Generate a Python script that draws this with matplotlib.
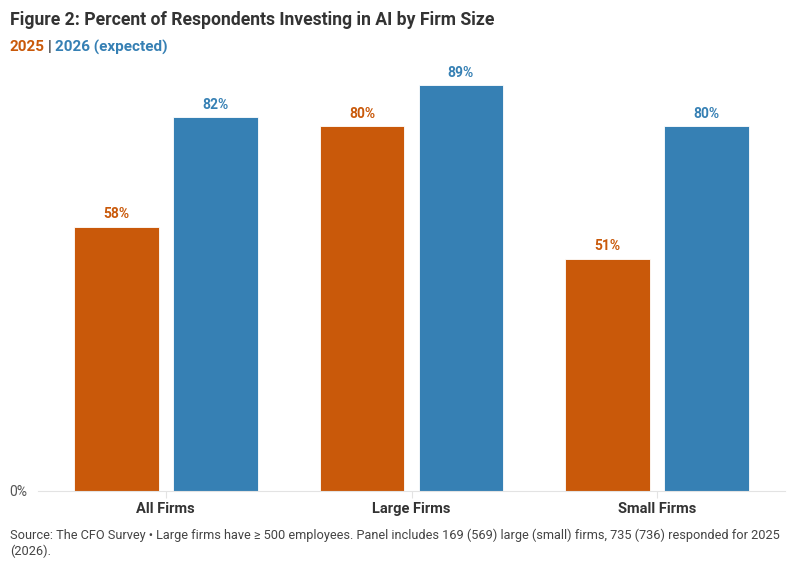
import matplotlib.pyplot as plt
import numpy as np

# data
categories = ['All Firms', 'Large Firms', 'Small Firms']
pct_2025 = [58, 80, 51]
pct_2026 = [82, 89, 80]

orange = '#C9590A'
blue = '#3680B4'
dark = '#333333'

plt.rcParams['font.family'] = ['Roboto', 'DejaVu Sans']

fig = plt.figure(figsize=(7.94, 5.67), dpi=100)
ax = fig.add_axes([38 / 794, 1 - 491 / 567, 747 / 794, 418 / 567])

x = np.arange(len(categories))
w = 0.345
off = 0.201
b1 = ax.bar(x - off, pct_2025, w, color=orange, edgecolor='white', linewidth=0.6)
b2 = ax.bar(x + off, pct_2026, w, color=blue, edgecolor='white', linewidth=0.6)

for bars, col in [(b1, orange), (b2, blue)]:
    for b in bars:
        ax.annotate(f'{b.get_height():.0f}%', (b.get_x() + b.get_width() / 2, b.get_height()),
                    xytext=(0, 4), textcoords='offset points', ha='center', va='bottom',
                    color=col, fontsize=10, fontweight='bold')

ax.set_xlim(-0.52, 2.52)
ax.set_ylim(0, 91.7)
ax.set_yticks([0])
ax.set_yticklabels(['0%'])
ax.set_xticks(x)
ax.set_xticklabels(categories, fontsize=10.5, fontweight='bold', color=dark)
for s in ['top', 'right', 'left']:
    ax.spines[s].set_visible(False)
ax.spines['bottom'].set_color('#e3e3e3')
ax.tick_params(axis='x', length=5, color='#e3e3e3', pad=3)
ax.tick_params(axis='y', length=0, labelsize=10, labelcolor='#555555', pad=8)

fig.text(10 / 794, 1 - 20 / 567, 'Figure 2: Percent of Respondents Investing in AI by Firm Size',
         fontsize=12.7, fontweight='bold', color=dark, va='center')
t1 = fig.text(10 / 794, 1 - 47 / 567, '2025', fontsize=11, fontweight='bold', color=orange, va='center')
fig.canvas.draw()
bb = t1.get_window_extent()
t2 = fig.text(bb.x1 / 794 + 0.004, 1 - 47 / 567, '|', fontsize=11, fontweight='bold', color=dark, va='center')
bb = t2.get_window_extent()
fig.text(bb.x1 / 794 + 0.004, 1 - 47 / 567, '2026 (expected)', fontsize=11, fontweight='bold', color=blue, va='center')

fig.text(10 / 794, 1 - 535 / 567,
         'Source: The CFO Survey \u2022 Large firms have \u2265 500 employees. Panel includes 169 (569) large (small) firms, 735 (736) responded for 2025',
         fontsize=9.2, color='#444444', va='center')
fig.text(10 / 794, 1 - 551 / 567, '(2026).', fontsize=9.2, color='#444444', va='center')

fig.savefig('out.png', dpi=100)
